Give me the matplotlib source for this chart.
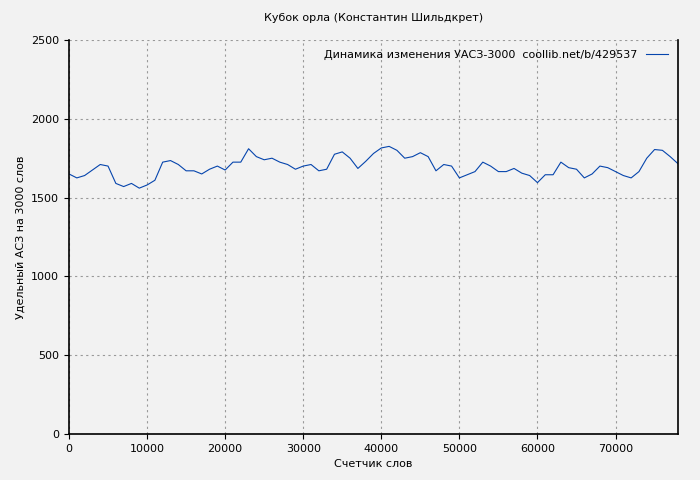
import matplotlib

matplotlib.use("Agg")
import matplotlib.pyplot as plt

word_counts = [i * 1000 for i in range(79)]
density = [1650, 1625, 1640, 1675, 1710, 1700, 1590, 1570, 1590, 1560,
           1580, 1610, 1725, 1735, 1710, 1670, 1670, 1650, 1680, 1700,
           1675, 1725, 1725, 1810, 1760, 1740, 1750, 1725, 1710, 1680,
           1700, 1710, 1670, 1680, 1775, 1790, 1750, 1685, 1730, 1780,
           1815, 1825, 1800, 1750, 1760, 1785, 1760, 1670, 1710, 1700,
           1625, 1645, 1665, 1725, 1700, 1665, 1665, 1685, 1655, 1640,
           1595, 1645, 1645, 1725, 1690, 1680, 1625, 1650, 1700, 1690,
           1665, 1640, 1625, 1665, 1750, 1805, 1800, 1760, 1715]

plt.rcParams["font.family"] = ["DejaVu Sans"]
plt.rcParams["font.size"] = 8

fig = plt.figure(figsize=(7, 4.8), dpi=100, facecolor="#f2f2f2")
ax = fig.add_axes([69 / 700, 46 / 480, 609 / 700, 394 / 480])
ax.set_facecolor("#f2f2f2")
ax.plot(word_counts, density, color="#0645ad", linewidth=0.8,
        label="Динамика изменения УАСЗ-3000  coollib.net/b/429537")
ax.set_xlim(0, 78000)
ax.set_ylim(0, 2500)
ax.set_xticks(range(0, 78000, 10000))
ax.set_yticks(range(0, 2501, 500))
ax.grid(True, color="#999999", linestyle=(0, (2, 3)), linewidth=0.8)
ax.spines["top"].set_visible(False)
for side in ["left", "bottom", "right"]:
    ax.spines[side].set_linewidth(1.2)
ax.set_title("Кубок орла (Константин Шильдкрет)", fontsize=8, pad=14)
ax.set_xlabel("Счетчик слов")
ax.set_ylabel("Удельный АСЗ на 3000 слов")
ax.legend(loc="upper right", frameon=False, markerfirst=False, fontsize=8)

plt.savefig("out.png", dpi=100, facecolor=fig.get_facecolor())
plt.close()
